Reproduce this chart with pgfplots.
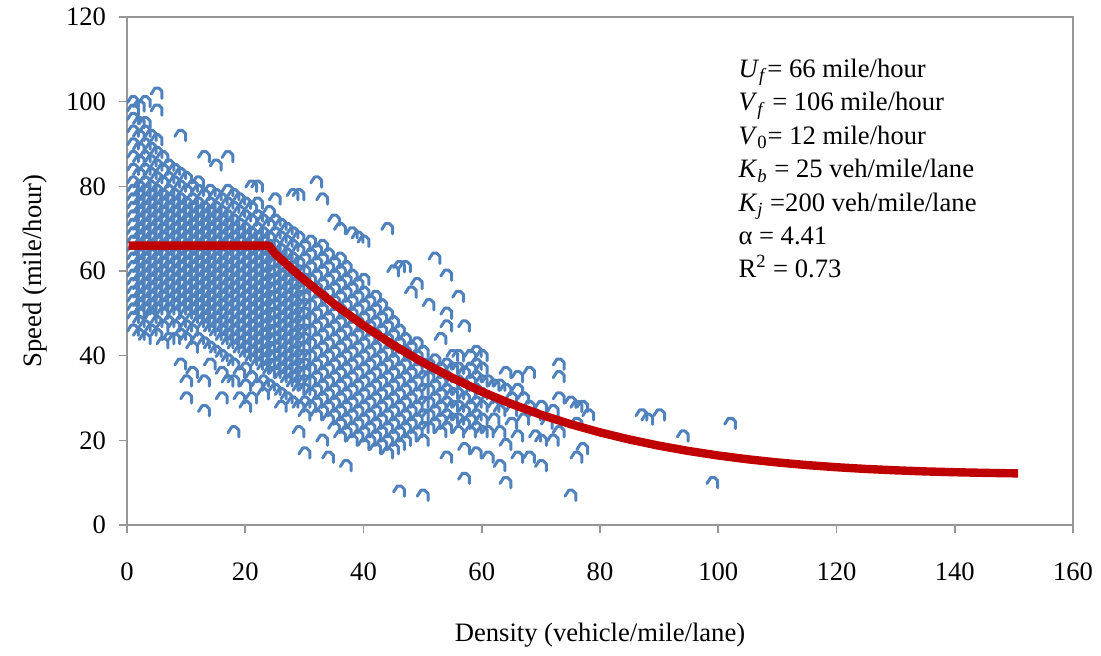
\documentclass[border=0pt]{standalone}
\usepackage{pgfplots}
\pgfplotsset{compat=1.18}
\usepackage{fontspec}
\setmainfont{Liberation Serif}
\definecolor{ptblue}{HTML}{4F81BD}
\definecolor{fitred}{HTML}{C00000}
\definecolor{axgray}{HTML}{969696}
\pgfdeclareplotmark{cap}{%
  \pgfpathmoveto{\pgfpoint{-1\pgfplotmarksize}{-0.15\pgfplotmarksize}}%
  \pgfpathlineto{\pgfpoint{-0.3\pgfplotmarksize}{0.95\pgfplotmarksize}}%
  \pgfpathlineto{\pgfpoint{0.4\pgfplotmarksize}{0.95\pgfplotmarksize}}%
  \pgfpathlineto{\pgfpoint{1\pgfplotmarksize}{0.35\pgfplotmarksize}}%
  \pgfpathlineto{\pgfpoint{1\pgfplotmarksize}{-0.95\pgfplotmarksize}}%
  \pgfusepathqstroke}
\begin{document}
\begin{tikzpicture}
\useasboundingbox (-63.5pt,-65pt) rectangle (487pt,262.5pt);
\begin{axis}[
  at={(0,0)}, anchor=south west, scale only axis,
  width=473pt, height=254pt,
  xmin=0, xmax=160, ymin=0, ymax=120,
  xtick distance=20, ytick distance=20,
  clip marker paths=true,
  axis line style={axgray, line width=1pt},
  tick style={axgray, line width=0.8pt},
  tick align=outside, major tick length=4pt,
  xtick pos=lower, ytick pos=left,
  ticklabel style={font=\fontsize{13.3}{16}\selectfont, text=black},
  /pgf/number format/assume math mode=true,
  xticklabel style={yshift=-11.5pt},
  yticklabel style={xshift=-3pt},
  xlabel={Density (vehicle/mile/lane)},
  ylabel={Speed (mile/hour)},
  every axis x label/.style={at={(axis description cs:0.5,-0.2165)}, anchor=center, font=\fontsize{13.3}{16}\selectfont},
  every axis y label/.style={at={(axis description cs:-0.0973,0.5)}, anchor=center, rotate=90, font=\fontsize{13.3}{16}\selectfont},
]
\addplot[only marks, mark=cap, mark size=2.7pt, ptblue, mark options={line width=1.5pt, line join=round, line cap=round}] coordinates {
(1,46)(1,49)(1,51)(1,53)(1,55)(1,57)(1,59)(1,61)(1,63)(1,65)(1,67)(1,69)(1,71)(1,73)(1,75)(1,77)(1,79)(1,81)(1,84)(1,87)(1,90)(1,93)(1,96)(1,98)(1,100)
(2,45)(2,48)(2,50)(2,52)(2,54)(2,56)(2,58)(2,60)(2,62)(2,64)(2,66)(2,68)(2,70)(2,72)(2,74)(2,76)(2,78)(2,80)(2,83)(2,86)(2,89)(2,92)(2,95)(2,99)
(3,44)(3,47)(3,51)(3,53)(3,55)(3,57)(3,59)(3,61)(3,63)(3,65)(3,67)(3,69)(3,71)(3,73)(3,75)(3,77)(3,79)(3,81)(3,84)(3,87)(3,90)(3,93)(3,95)(3,100)
(4,46)(4,49)(4,50)(4,52)(4,54)(4,56)(4,58)(4,60)(4,62)(4,64)(4,66)(4,68)(4,70)(4,72)(4,74)(4,76)(4,78)(4,80)(4,83)(4,86)(4,89)(4,92)
(5,45)(5,48)(5,51)(5,53)(5,55)(5,57)(5,59)(5,61)(5,63)(5,65)(5,67)(5,69)(5,71)(5,73)(5,75)(5,77)(5,79)(5,82)(5,85)(5,88)(5,91)(5,98)(5,102)
(6,43)(6,47)(6,50)(6,52)(6,54)(6,56)(6,58)(6,60)(6,62)(6,64)(6,66)(6,68)(6,70)(6,72)(6,74)(6,76)(6,78)(6,81)(6,84)(6,87)
(7,44)(7,48)(7,51)(7,53)(7,55)(7,57)(7,59)(7,61)(7,63)(7,65)(7,67)(7,69)(7,71)(7,73)(7,75)(7,77)(7,79)(7,82)(7,85)
(8,44)(8,47)(8,50)(8,52)(8,54)(8,56)(8,58)(8,60)(8,62)(8,64)(8,66)(8,68)(8,70)(8,72)(8,74)(8,76)(8,78)(8,81)(8,84)
(9,38)(9,45)(9,48)(9,51)(9,53)(9,55)(9,57)(9,59)(9,61)(9,63)(9,65)(9,67)(9,69)(9,71)(9,73)(9,75)(9,77)(9,80)(9,83)(9,92)
(10,30)(10,34)(10,44)(10,47)(10,50)(10,52)(10,54)(10,56)(10,58)(10,60)(10,62)(10,64)(10,66)(10,68)(10,70)(10,72)(10,74)(10,76)(10,79)(10,82)
(11,36)(11,42)(11,46)(11,49)(11,51)(11,53)(11,55)(11,57)(11,59)(11,61)(11,63)(11,65)(11,67)(11,69)(11,71)(11,73)(11,75)(11,77)(11,80)
(12,44)(12,48)(12,50)(12,52)(12,54)(12,56)(12,58)(12,60)(12,62)(12,64)(12,66)(12,68)(12,70)(12,72)(12,74)(12,76)(12,79)(12,81)
(13,27)(13,34)(13,43)(13,47)(13,49)(13,51)(13,53)(13,55)(13,57)(13,59)(13,61)(13,63)(13,65)(13,67)(13,69)(13,71)(13,73)(13,75)(13,78)(13,87)
(14,38)(14,42)(14,46)(14,48)(14,50)(14,52)(14,54)(14,56)(14,58)(14,60)(14,62)(14,64)(14,66)(14,68)(14,70)(14,72)(14,74)(14,76)(14,79)
(15,41)(15,45)(15,47)(15,49)(15,51)(15,53)(15,55)(15,57)(15,59)(15,61)(15,63)(15,65)(15,67)(15,69)(15,71)(15,73)(15,75)(15,78)(15,85)
(16,30)(16,36)(16,40)(16,44)(16,46)(16,48)(16,50)(16,52)(16,54)(16,56)(16,58)(16,60)(16,62)(16,64)(16,66)(16,68)(16,70)(16,72)(16,74)(16,77)
(17,34)(17,39)(17,43)(17,45)(17,47)(17,49)(17,51)(17,53)(17,55)(17,57)(17,59)(17,61)(17,63)(17,65)(17,67)(17,69)(17,71)(17,73)(17,76)(17,79)(17,87)
(18,22)(18,34)(18,38)(18,42)(18,44)(18,46)(18,48)(18,50)(18,52)(18,54)(18,56)(18,58)(18,60)(18,62)(18,64)(18,66)(18,68)(18,70)(18,72)(18,75)(18,78)
(19,30)(19,36)(19,41)(19,43)(19,45)(19,47)(19,49)(19,51)(19,53)(19,55)(19,57)(19,59)(19,61)(19,63)(19,65)(19,67)(19,69)(19,71)(19,74)(19,77)
(20,28)(20,33)(20,37)(20,40)(20,42)(20,44)(20,46)(20,48)(20,50)(20,52)(20,54)(20,56)(20,58)(20,60)(20,62)(20,64)(20,66)(20,68)(20,70)(20,73)(20,76)
(21,30)(21,35)(21,39)(21,41)(21,43)(21,45)(21,47)(21,49)(21,51)(21,53)(21,55)(21,57)(21,59)(21,61)(21,63)(21,65)(21,67)(21,69)(21,72)(21,75)(21,80)
(22,33)(22,38)(22,40)(22,42)(22,44)(22,46)(22,48)(22,50)(22,52)(22,54)(22,56)(22,58)(22,60)(22,62)(22,64)(22,66)(22,68)(22,70)(22,73)(22,76)(22,80)
(23,31)(23,34)(23,37)(23,39)(23,41)(23,43)(23,45)(23,47)(23,49)(23,51)(23,53)(23,55)(23,57)(23,59)(23,61)(23,63)(23,65)(23,67)(23,69)(23,72)
(24,33)(24,36)(24,38)(24,40)(24,42)(24,44)(24,46)(24,48)(24,50)(24,52)(24,54)(24,56)(24,58)(24,60)(24,62)(24,64)(24,66)(24,68)(24,71)(24,74)
(25,32)(25,36)(25,38)(25,40)(25,42)(25,44)(25,46)(25,48)(25,50)(25,52)(25,54)(25,56)(25,58)(25,60)(25,62)(25,64)(25,66)(25,69)(25,72)(25,77)
(26,28)(26,31)(26,35)(26,37)(26,39)(26,41)(26,43)(26,45)(26,47)(26,49)(26,51)(26,53)(26,55)(26,57)(26,59)(26,61)(26,63)(26,65)(26,68)(26,71)
(27,30)(27,34)(27,36)(27,38)(27,40)(27,42)(27,44)(27,46)(27,48)(27,50)(27,52)(27,54)(27,56)(27,58)(27,60)(27,62)(27,64)(27,67)(27,70)
(28,29)(28,33)(28,35)(28,37)(28,39)(28,41)(28,43)(28,45)(28,47)(28,49)(28,51)(28,53)(28,55)(28,57)(28,59)(28,61)(28,63)(28,66)(28,69)(28,78)
(29,22)(29,28)(29,32)(29,34)(29,36)(29,38)(29,40)(29,42)(29,44)(29,46)(29,48)(29,50)(29,52)(29,54)(29,56)(29,58)(29,60)(29,62)(29,65)(29,68)(29,78)
(30,17)(30,26)(30,29)(30,32)(30,34)(30,36)(30,38)(30,40)(30,42)(30,44)(30,46)(30,48)(30,50)(30,52)(30,54)(30,56)(30,58)(30,60)(30,63)(30,66)
(31,28)(31,31)(31,34)(31,37)(31,40)(31,43)(31,46)(31,49)(31,52)(31,55)(31,58)(31,61)(31,64)(31,67)
(32,26)(32,29)(32,32)(32,35)(32,38)(32,41)(32,44)(32,47)(32,50)(32,53)(32,56)(32,59)(32,62)(32,65)(32,81)
(33,27)(33,30)(33,33)(33,36)(33,39)(33,42)(33,45)(33,48)(33,51)(33,54)(33,57)(33,60)(33,63)(33,66)(33,77)(33,20)
(34,25)(34,28)(34,31)(34,34)(34,37)(34,40)(34,43)(34,46)(34,49)(34,52)(34,55)(34,58)(34,61)(34,64)(34,16)
(35,23)(35,26)(35,29)(35,32)(35,35)(35,38)(35,41)(35,44)(35,47)(35,50)(35,53)(35,56)(35,59)(35,62)(35,72)
(36,24)(36,27)(36,30)(36,33)(36,36)(36,39)(36,42)(36,45)(36,48)(36,51)(36,54)(36,57)(36,60)(36,63)(36,70)(36,21)
(37,22)(37,25)(37,28)(37,31)(37,34)(37,37)(37,40)(37,43)(37,46)(37,49)(37,52)(37,55)(37,58)(37,61)(37,14)
(38,20)(38,23)(38,26)(38,29)(38,32)(38,35)(38,38)(38,41)(38,44)(38,47)(38,50)(38,53)(38,56)(38,59)(38,69)
(39,21)(39,24)(39,27)(39,30)(39,33)(39,36)(39,39)(39,42)(39,45)(39,48)(39,51)(39,54)(39,57)(39,68)
(40,19)(40,22)(40,25)(40,28)(40,31)(40,34)(40,37)(40,40)(40,43)(40,46)(40,49)(40,52)(40,55)(40,58)(40,67)
(41,20)(41,23)(41,26)(41,29)(41,32)(41,35)(41,38)(41,41)(41,44)(41,47)(41,50)(41,53)
(42,18)(42,21)(42,24)(42,27)(42,30)(42,33)(42,36)(42,39)(42,42)(42,45)(42,48)(42,51)(42,54)
(43,19)(43,22)(43,25)(43,28)(43,31)(43,34)(43,37)(43,40)(43,43)(43,46)(43,49)(43,52)
(44,17)(44,20)(44,23)(44,26)(44,29)(44,32)(44,35)(44,38)(44,41)(44,44)(44,47)(44,50)(44,70)
(45,18)(45,21)(45,24)(45,27)(45,30)(45,33)(45,36)(45,39)(45,42)(45,45)(45,48)(45,60)
(46,19)(46,22)(46,25)(46,28)(46,31)(46,34)(46,37)(46,40)(46,43)(46,46)(46,61)(46,8)
(47,20)(47,23)(47,26)(47,29)(47,32)(47,35)(47,38)(47,41)(47,44)(47,61)
(48,21)(48,24)(48,27)(48,30)(48,33)(48,36)(48,39)(48,42)(48,55)
(49,22)(49,25)(49,28)(49,31)(49,34)(49,37)(49,40)(49,43)(49,57)
(50,20)(50,23)(50,26)(50,29)(50,32)(50,35)(50,38)(50,41)(50,7)
(51,23)(51,26)(51,29)(51,32)(51,35)(51,38)(51,52)
(52,24)(52,27)(52,30)(52,33)(52,36)(52,39)(52,63)
(53,22)(53,25)(53,28)(53,31)(53,34)(53,37)(53,44)
(54,23)(54,26)(54,29)(54,32)(54,35)(54,38)(54,59)(54,50)(54,47)(54,16)
(55,25)(55,28)(55,31)(55,34)(55,37)(55,40)
(56,22)(56,25)(56,28)(56,31)(56,34)(56,37)(56,40)(56,54)
(57,24)(57,27)(57,30)(57,33)(57,36)(57,47)(57,18)(57,11)
(58,22)(58,25)(58,28)(58,31)(58,34)(58,37)(58,40)
(59,23)(59,26)(59,29)(59,32)(59,35)(59,38)(59,41)(59,17)
(60,22)(60,25)(60,28)(60,31)(60,34)(60,37)(60,40)
(61,16)(61,22)(61,30)(61,34)
(62,25)(62,28)(62,33)
(63,14)(63,22)(63,27)(63,33)
(64,10)(64,19)(64,32)(64,36)
(65,24)(65,27)(65,30)
(66,16)(66,21)(66,32)(66,35)
(67,25)(67,30)
(68,16)(68,28)(68,36)
(69,21)(69,26)
(70,14)(70,20)(70,28)
(71,24)
(72,20)(72,27)
(73,22)(73,30)(73,35)(73,38)
(75,7)(75,29)
(76,16)(76,24)(76,28)
(77,18)(77,28)
(78,26)
(87,26)(88,25)(90,26)(94,21)(99,10)(102,24)
};
\addplot[fitred, line width=4.2pt, line join=round, line cap=rect] coordinates {
(1,66)(24,66)(25,64.17)(26,62.86)(27,61.59)(28,60.33)(30,57.91)(35,52.24)(40,47.14)(45,42.55)(50,38.44)(55,34.77)(60,31.50)(65,28.61)(70,26.06)(75,23.83)(80,21.88)(85,20.19)(90,18.73)(95,17.48)(100,16.42)(105,15.52)(110,14.78)(115,14.16)(120,13.65)(125,13.24)(130,12.92)(135,12.66)(140,12.47)(145,12.32)(150,12.21)
};
\node[anchor=north west, align=left, inner sep=0pt, font=\fontsize{13.3}{16.7}\selectfont] at (rel axis cs:0.646,0.918) {%
\textit{U}\textsubscript{\textit{f}}= 66 mile/hour\\
\textit{V}\textsubscript{\textit{f}} = 106 mile/hour\\
\textit{V}\textsubscript{0}= 12 mile/hour\\
\textit{K}\textsubscript{\textit{b}} = 25 veh/mile/lane\\
\textit{K}\textsubscript{\textit{j}} =200 veh/mile/lane\\
α = 4.41\\
R\textsuperscript{2} = 0.73};
\end{axis}
\end{tikzpicture}
\end{document}
